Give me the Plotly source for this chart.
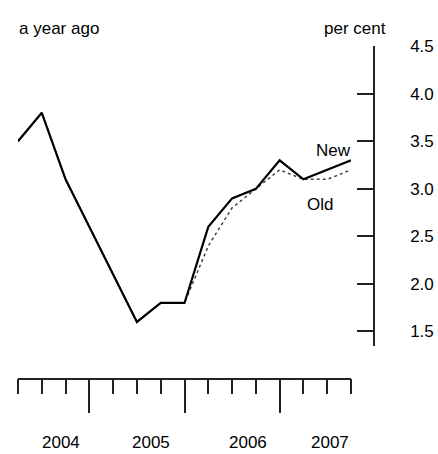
import plotly.graph_objects as go

# Quarterly data points (index 0 = first quarter shown)
quarters = list(range(15))
new_values = [3.5, 3.8, 3.1, 2.6, 2.1, 1.6, 1.8, 1.8, 2.6, 2.9, 3.0, 3.3, 3.1, 3.2, 3.3]
old_values = [3.5, 3.8, 3.1, 2.6, 2.1, 1.6, 1.8, 1.8, 2.4, 2.8, 3.0, 3.2, 3.1, 3.1, 3.2]
year_labels = ["2004", "2005", "2006", "2007"]
year_label_pos = [1.8, 5.58, 9.69, 13.13]
year_boundaries = [3, 7, 11]
y_ticks = [1.5, 2.0, 2.5, 3.0, 3.5, 4.0, 4.5]

W, H = 438, 454
FONT = "Liberation Sans, Arial, sans-serif"
FS = 17

fig = go.Figure()
fig.add_trace(go.Scatter(x=quarters, y=old_values, mode="lines",
                         line=dict(color="#444444", width=1.5, dash="dot"),
                         showlegend=False, hoverinfo="skip"))
fig.add_trace(go.Scatter(x=quarters, y=new_values, mode="lines",
                         line=dict(color="black", width=2.2),
                         showlegend=False))

x0_px, x1_px = 18, 351
y_top_px, y_bot_px = 38, 344
ppu = (329 - 38) / 3.0
y_lo = 4.5 - (y_bot_px - y_top_px) / ppu

fig.update_layout(
    width=W, height=H,
    margin=dict(l=0, r=0, t=0, b=0),
    paper_bgcolor="white", plot_bgcolor="white",
    font=dict(family=FONT, size=FS, color="black"),
    xaxis=dict(
        domain=[x0_px / W, x1_px / W],
        range=[0, 14],
        anchor="free", position=1 - 377 / H,
        showgrid=False, zeroline=False,
        showline=True, linecolor="#222222", linewidth=1.5,
        tickmode="array", tickvals=year_boundaries,
        ticks="outside", ticklen=34, tickwidth=1.5, tickcolor="#222222",
        showticklabels=False,
        minor=dict(tickmode="linear", tick0=0, dtick=1, ticks="outside",
                   ticklen=15, tickwidth=1.5, tickcolor="#222222", showgrid=False),
    ),
    yaxis=dict(
        domain=[1 - y_bot_px / H, 1 - y_top_px / H],
        range=[y_lo, 4.5],
        anchor="free", position=374 / W, side="right",
        showgrid=False, zeroline=False,
        showline=True, linecolor="#222222", linewidth=1.5,
        tickmode="array", tickvals=y_ticks,
        ticktext=[f"{v:.1f}" for v in y_ticks],
        ticks="inside", ticklen=16, tickwidth=1.5, tickcolor="#222222",
        ticklabelstandoff=32,
        tickfont=dict(family=FONT, size=FS, color="black"),
    ),
)

annotations = [
    dict(text="a year ago", x=17 / W, y=1 - 20 / H, xref="paper", yref="paper",
         xanchor="left", yanchor="middle", showarrow=False),
    dict(text="per cent", x=354.5 / W, y=1 - 20 / H, xref="paper", yref="paper",
         xanchor="center", yanchor="middle", showarrow=False),
    dict(text="New", x=333.5 / W, y=1 - 144.5 / H, xref="paper", yref="paper",
         xanchor="center", yanchor="middle", showarrow=False),
    dict(text="Old", x=319.5 / W, y=1 - 199.5 / H, xref="paper", yref="paper",
         xanchor="center", yanchor="middle", showarrow=False),
]
for lab, pos in zip(year_labels, year_label_pos):
    annotations.append(dict(text=lab, x=pos, xref="x", y=1 - 442 / H, yref="paper",
                            xanchor="center", yanchor="middle", showarrow=False))
fig.update_layout(annotations=annotations)

fig.write_html(
    "out.html",
    config={"displayModeBar": False},
    post_script="document.body.style.margin='0';document.body.style.overflow='hidden';",
)
